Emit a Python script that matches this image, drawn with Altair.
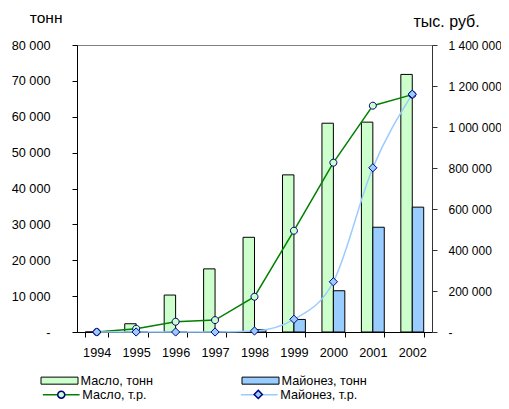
import altair as alt
import pandas as pd

years = ["1994", "1995", "1996", "1997", "1998", "1999", "2000", "2001", "2002"]
oil_tonnes = [0, 2300, 10300, 17600, 26400, 43800, 58200, 58500, 71800]
mayo_tonnes = [0, 0, 0, 0, 700, 3500, 11500, 29200, 34800]
oil_rub = [0, 16000, 50000, 58000, 172000, 494000, 826000, 1104000, 1158000]
mayo_rub = [0, 0, 0, 0, 5000, 62000, 245000, 801000, 1160000]

bar_names = ["Масло, тонн", "Майонез, тонн"]
line_names = ["Масло, т.р.", "Майонез, т.р."]
marker_codes = ["a", "b"]
bar_fills = ["#ccffcc", "#99ccff"]
line_colors = ["#008000", "#99ccff"]
marker_fills = ["#ccffcc", "#99ccff"]

left_ticks = list(range(0, 80001, 10000))
right_ticks = list(range(0, 1400001, 200000))

FONT = "Liberation Sans"
FS = 12.7

bars_df = pd.DataFrame({
    "year": years * 2,
    "series": [bar_names[0]] * len(years) + [bar_names[1]] * len(years),
    "value": oil_tonnes + mayo_tonnes,
})
lines_df = pd.DataFrame({
    "year": years * 2,
    "series": [line_names[0]] * len(years) + [line_names[1]] * len(years),
    "sym": [marker_codes[0]] * len(years) + [marker_codes[1]] * len(years),
    "value": oil_rub + mayo_rub,
})

label_expr = "datum.value == 0 ? '-' : replace(format(datum.value, ','), regexp(',', 'g'), ' ')"

x_enc = alt.X(
    "year:N", sort=years,
    scale=alt.Scale(paddingInner=0.42, paddingOuter=0.21),
    axis=alt.Axis(title=None, tickBand="extent", labelAngle=0, labelPadding=9, tickSize=5,
                  domainColor="black", tickColor="black", labelColor="black",
                  labelFontSize=FS, grid=False),
)

y_left = alt.Y(
    "value:Q", scale=alt.Scale(domain=[0, 80000], nice=False),
    axis=alt.Axis(values=left_ticks, labelExpr=label_expr, title="тонн", titleAngle=0,
                  titleX=-47.7, titleY=-22.7, titleAlign="left", titleBaseline="alphabetic",
                  titleFontSize=15.5, titleFontWeight="normal", titleColor="black",
                  tickSize=5, labelPadding=22, domainColor="black", tickColor="black",
                  labelColor="black", labelFontSize=FS, grid=False),
)

y_right = alt.Y(
    "value:Q", scale=alt.Scale(domain=[0, 1400000], nice=False),
    axis=alt.Axis(orient="right", values=right_ticks, labelExpr=label_expr, title="тыс. руб.",
                  titleAngle=0, titleX=-19, titleY=-18.5, titleAlign="left",
                  titleBaseline="alphabetic", titleFontSize=16, titleFontWeight="normal",
                  titleColor="black", tickSize=5, labelPadding=11, domainColor="#333333",
                  tickColor="#333333", labelColor="black", labelFontSize=12, grid=False),
)

bars = alt.Chart(bars_df).mark_bar(stroke="black", strokeWidth=1).encode(
    x=x_enc,
    xOffset=alt.XOffset("series:N", sort=bar_names,
                        scale=alt.Scale(paddingInner=0, paddingOuter=0)),
    y=y_left,
    fill=alt.Fill(
        "series:N", sort=bar_names,
        scale=alt.Scale(domain=bar_names, range=bar_fills),
        legend=alt.Legend(title=None, orient="none", legendX=-36.5, legendY=316.5,
                          columns=2, columnPadding=86,
                          symbolType="M-1,-0.19H1V0.19H-1Z", symbolSize=1369,
                          symbolStrokeColor="black", symbolStrokeWidth=1,
                          labelOffset=2, labelFontSize=FS, labelColor="black"),
    ),
)

LEG2_Y = 339.75

stroke_enc = alt.Stroke(
    "series:N",
    scale=alt.Scale(domain=line_names, range=line_colors),
    legend=alt.Legend(title=None, orient="none", legendX=-25.25, legendY=LEG2_Y,
                      columns=2, columnPadding=91,
                      symbolType="M-2.1,0H2.1", symbolSize=306, symbolStrokeWidth=1.5,
                      labelOffset=11.5, labelFontSize=FS, labelColor="black"),
)

base = alt.Chart(lines_df).encode(x=x_enc, y=y_right)

oil_line = base.transform_filter(alt.datum.series == line_names[0]).mark_line(
    strokeWidth=1.5).encode(stroke=stroke_enc)
mayo_line = base.transform_filter(alt.datum.series == line_names[1]).mark_line(
    strokeWidth=1.5, interpolate="monotone").encode(stroke=stroke_enc)

circle_path = "M-0.4,0A0.4,0.4,0,1,0,0.4,0A0.4,0.4,0,1,0,-0.4,0Z"
diamond_path = "M0,-0.47L0.47,0L0,0.47L-0.47,0Z"

marker_legend = alt.Legend(title=None, orient="none", legendX=-25.25, legendY=LEG2_Y,
                           columns=2, columnPadding=178, symbolSize=306,
                           labelOffset=0, labelFontSize=FS, labelExpr="''")

points = base.mark_point(filled=True, size=306, stroke="#000080", strokeWidth=1,
                         opacity=1).encode(
    shape=alt.Shape("sym:N",
                    scale=alt.Scale(range=[circle_path, diamond_path]),
                    legend=marker_legend),
    fill=alt.Fill("sym:N",
                  scale=alt.Scale(range=marker_fills),
                  legend=marker_legend),
)

inner = alt.layer(oil_line, mayo_line, points)

chart = alt.layer(bars, inner).resolve_scale(
    y="independent", fill="independent", shape="independent"
).properties(
    width=355, height=287,
    autosize=alt.AutoSizeParams(type="none"),
    padding={"left": 69, "top": 37, "right": 69, "bottom": 69},
).configure(
    font=FONT,
).configure_view(
    stroke="#808080", strokeWidth=1
)

chart.save("out.html", embed_options={"renderer": "svg", "actions": False})
